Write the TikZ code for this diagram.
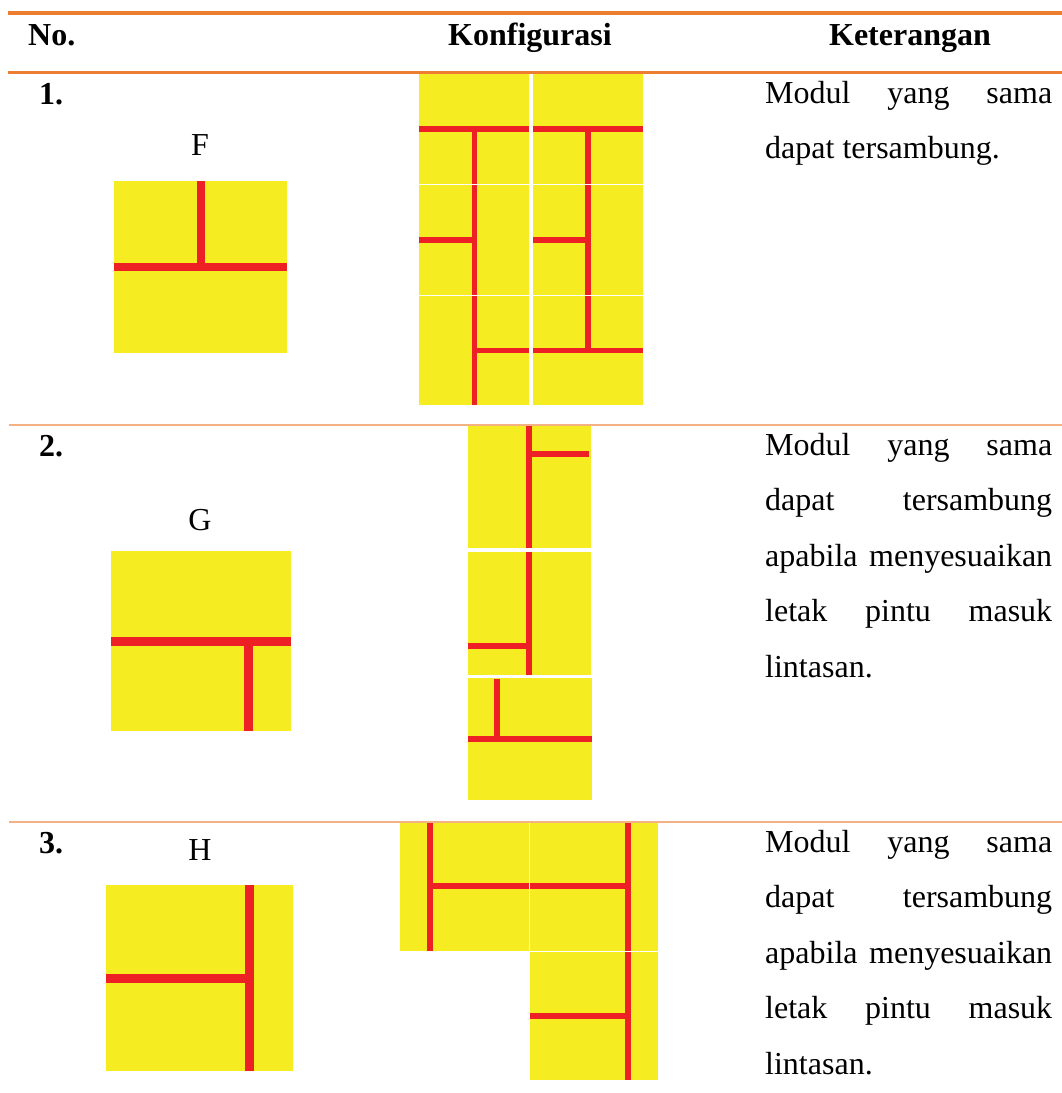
\documentclass[tikz,border=0pt]{standalone}
\usepackage{fontspec}
\setmainfont{Liberation Serif}
\usepackage{tikz}
\definecolor{oranye}{RGB}{237,125,49}
\definecolor{oranyemuda}{RGB}{244,177,131}
\definecolor{kuning}{RGB}{245,236,34}
\definecolor{merah}{RGB}{237,32,38}
\newcommand{\rata}[1]{\makebox[287pt][s]{#1}}

\begin{document}
\begin{tikzpicture}[x=1pt,y=-1pt,
	teks/.style={font=\fontsize{32}{38}\selectfont, inner sep=0pt},
	jalur/.style={draw=merah, line width=#1},
	jalur/.default=6pt,
	sambungan/.style={draw=white, line width=1pt}]

		\useasboundingbox (0,0) rectangle (1062,1093);

		%%Baris 1 : modul F
		\fill[kuning] (114,181) rectangle (287,353);
		\draw[jalur=8.7pt] (114,267) -- (287,267);
		\draw[jalur=8.7pt] (201,181) -- (201,267);

		%%Baris 1 : konfigurasi
		\fill[kuning] (419,74) rectangle (529,405);
		\fill[kuning] (533,74) rectangle (643,405);
		\draw[jalur=5.5pt] (419,129) -- (529,129);
		\draw[jalur=5.5pt] (474.5,129) -- (474.5,405);
		\draw[jalur=5.5pt] (419,240) -- (474.5,240);
		\draw[jalur=5.5pt] (474.5,350.5) -- (529,350.5);
		\draw[jalur=5.5pt] (533,129) -- (643,129);
		\draw[jalur=5.5pt] (588,129) -- (588,350.5);
		\draw[jalur=5.5pt] (533,240) -- (588,240);
		\draw[jalur=5.5pt] (533,350.5) -- (643,350.5);
		\draw[sambungan] (419,184) -- (643,184);
		\draw[sambungan] (419,295) -- (643,295);

		%%Baris 2 : modul G
		\fill[kuning] (111,551) rectangle (291,731);
		\draw[jalur=9pt] (111,641) -- (291,641);
		\draw[jalur=9pt] (248.7,641) -- (248.7,731);

		%%Baris 2 : konfigurasi
		\fill[kuning] (467.5,425) rectangle (591,548);
		\fill[kuning] (467.5,551.5) rectangle (591,675);
		\fill[kuning] (468.3,677.5) rectangle (591.7,800);
		\draw[jalur] (529,425) -- (529,548);
		\draw[jalur] (529,454) -- (589,454);
		\draw[jalur] (529,551.5) -- (529,675);
		\draw[jalur] (468,645.7) -- (529,645.7);
		\draw[jalur] (497.3,679) -- (497.3,739);
		\draw[jalur] (468.3,739) -- (591.7,739);

		%%Baris 3 : modul H
		\fill[kuning] (106,885) rectangle (293,1071);
		\draw[jalur=9pt] (249.5,885) -- (249.5,1071);
		\draw[jalur=9pt] (106,978) -- (249.5,978);

		%%Baris 3 : konfigurasi
		\fill[kuning] (400,822) rectangle (529.5,951);
		\fill[kuning] (529.5,822) rectangle (658.3,1080);
		\draw[jalur=6.3pt] (430,822) -- (430,951);
		\draw[jalur=6.3pt] (430,886) -- (628.3,886);
		\draw[jalur=6.3pt] (628.3,822) -- (628.3,1080);
		\draw[jalur=6.3pt] (529.5,1016) -- (628.3,1016);
		\draw[sambungan] (529.5,822) -- (529.5,951);
		\draw[sambungan] (529.5,951) -- (658.3,951);

		%%Garis tabel
		\draw[oranye, line width=4pt] (8,13) -- (1062,13);
		\draw[oranye, line width=3.4pt] (8,72.5) -- (1062,72.5);
		\draw[oranyemuda, line width=1.4pt] (9,425) -- (1062,425);
		\draw[oranyemuda, line width=1.4pt] (9,822) -- (1062,822);

		%%Judul kolom
		\draw (28,45) node (hNo) [teks, anchor=base west] {\textbf{No.}};
		\draw (530,45) node (hKonf) [teks, anchor=base] {\textbf{Konfigurasi}};
		\draw (910,45) node (hKet) [teks, anchor=base] {\textbf{Keterangan}};

		%%Nomor dan nama modul
		\draw (39,104) node (no1) [teks, anchor=base west] {\textbf{1.}};
		\draw (39,456) node (no2) [teks, anchor=base west] {\textbf{2.}};
		\draw (39,853) node (no3) [teks, anchor=base west] {\textbf{3.}};
		\draw (200,155) node (labF) [teks, anchor=base] {F};
		\draw (200,530) node (labG) [teks, anchor=base] {G};
		\draw (200,860) node (labH) [teks, anchor=base] {H};

		%%Keterangan
		\draw (765,103) node (ket1a) [teks, anchor=base west] {\rata{Modul yang sama}};
		\draw (765,158) node (ket1b) [teks, anchor=base west] {dapat tersambung.};

		\draw (765,455) node (ket2a) [teks, anchor=base west] {\rata{Modul yang sama}};
		\draw (765,510.5) node (ket2b) [teks, anchor=base west] {\rata{dapat tersambung}};
		\draw (765,566) node (ket2c) [teks, anchor=base west] {\rata{apabila menyesuaikan}};
		\draw (765,621.5) node (ket2d) [teks, anchor=base west] {\rata{letak pintu masuk}};
		\draw (765,677) node (ket2e) [teks, anchor=base west] {lintasan.};

		\draw (765,852) node (ket3a) [teks, anchor=base west] {\rata{Modul yang sama}};
		\draw (765,907.5) node (ket3b) [teks, anchor=base west] {\rata{dapat tersambung}};
		\draw (765,963) node (ket3c) [teks, anchor=base west] {\rata{apabila menyesuaikan}};
		\draw (765,1018.5) node (ket3d) [teks, anchor=base west] {\rata{letak pintu masuk}};
		\draw (765,1074) node (ket3e) [teks, anchor=base west] {lintasan.};
	\end{tikzpicture}
\end{document}
